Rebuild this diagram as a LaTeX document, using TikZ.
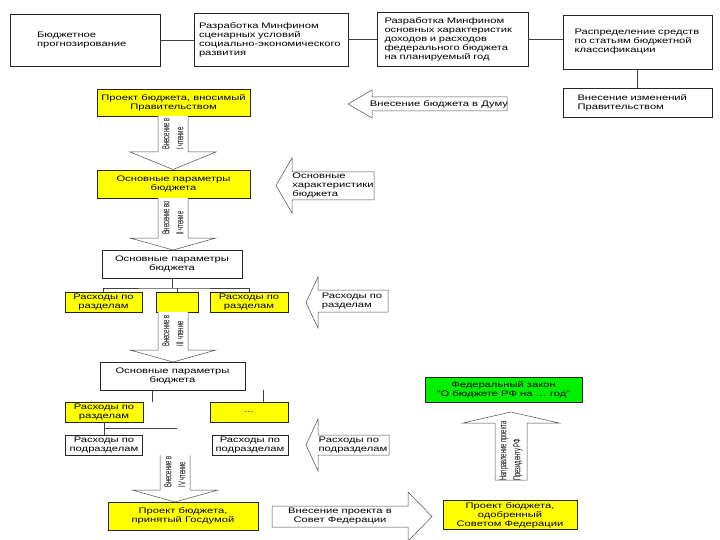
\documentclass[tikz,border=0pt]{standalone}
\usepackage{fontspec}
\setmainfont{Liberation Sans}[FakeStretch=1.4]
\newfontfamily\condfont{Liberation Sans}[FakeStretch=0.58]
\usepackage{xcolor}
\definecolor{boxyellow}{RGB}{255,255,0}
\definecolor{boxgreen}{RGB}{0,240,0}

\begin{document}
\begin{tikzpicture}[x=1pt,y=-1pt,
  every node/.style={font=\fontsize{8}{9}\selectfont,inner sep=2pt},
  box/.style={draw=black!85,line width=0.6pt,fill=white,align=left},
  ybox/.style={box,fill=boxyellow,align=center},
  gbox/.style={box,fill=boxgreen,align=center},
  blk/.style={draw=black!70,line width=0.5pt,fill=white},
  vtxt/.style={font=\condfont\fontsize{10}{14}\selectfont,rotate=90,align=left},
  link/.style={draw=black!75,line width=0.6pt}]
\useasboundingbox (0,0) rectangle (720,540);

% top row
\node[box,minimum width=150pt,minimum height=52pt,text width=96pt] (prog) at (85,40) {Бюджетное\\прогнозирование};
\node[box,minimum width=154pt,minimum height=53pt,text width=144pt] (scen) at (271,39.5) {Разработка Минфином\\сценарных условий\\социально-экономического\\развития};
\node[box,minimum width=151pt,minimum height=54pt,text width=136pt] (osn) at (452.5,39) {Разработка Минфином\\основных характеристик\\доходов и расходов\\федерального бюджета\\на планируемый год};
\node[box,minimum width=149pt,minimum height=54pt,text width=126pt] (rasp) at (637.5,42) {Распределение средств\\по статьям бюджетной\\классификации};
\node[box,minimum width=149pt,minimum height=29pt,text width=120pt] (izm) at (637.5,102.5) {Внесение изменений\\Правительством};
\draw[link] (prog.east) -- (prog.east -| scen.west);
\draw[link] (scen.east) -- (scen.east -| osn.west);
\draw[link] (osn.east) -- (osn.east -| rasp.west);
\draw[link] (rasp.south) -- (izm.north);

% left column
\node[ybox,minimum width=153pt,minimum height=27pt] (pr1) at (173.5,102.5) {Проект бюджета, вносимый\\Правительством};
\draw[blk] (158,116) -- (158,152) -- (130,152) -- (173,169.5) -- (216,152) -- (188,152) -- (188,116);
\node[vtxt] (ch1) at (173,134) {Внесение в\\I чтение};
\node[ybox,minimum width=153pt,minimum height=28pt] (pr2) at (173.5,184) {Основные параметры\\бюджета};
\draw[blk] (158,198) -- (158,238) -- (130,238) -- (173,250) -- (216,238) -- (188,238) -- (188,198);
\node[vtxt] (ch2) at (173,218) {Внесение во\\II чтение};
\node[box,align=center,minimum width=140pt,minimum height=28pt] (par1) at (172,264) {Основные параметры\\бюджета};

\node[ybox,minimum width=77pt,minimum height=20pt] (rz1) at (103.5,302) {Расходы по\\разделам};
\node[ybox,minimum width=42pt,minimum height=20pt] (rz2) at (177,302) {};
\node[ybox,minimum width=78pt,minimum height=20pt] (rz3) at (249,302) {Расходы по\\разделам};
\coordinate (j1) at (172,288);
\draw[link] (par1.south) -- (j1);
\draw[link] (rz1.north) |- (j1) -| (rz3.north);
\draw[link] (rz2.north) -- (rz2.north |- j1);

\draw[blk] (158,312) -- (158,350) -- (130,350) -- (173,362) -- (216,350) -- (188,350) -- (188,312);
\node[vtxt] (ch3) at (173,331) {Внесение в\\III чтение};
\node[box,align=center,minimum width=145pt,minimum height=28pt] (par2) at (172.5,376) {Основные параметры\\бюджета};
\node[ybox,minimum width=78pt,minimum height=20pt] (rz4) at (104,412) {Расходы по\\разделам};
\node[ybox,minimum width=78pt,minimum height=20pt] (rz5) at (249,412) {...};
\coordinate (t1) at (152,390);
\coordinate (t2) at (263,390);
\draw[link] (t1) -- (t1 |- rz4.north);
\draw[link] (t2) -- (t2 |- rz5.north);

\node[box,align=center,minimum width=77pt,minimum height=20pt] (pd1) at (104,445) {Расходы по\\подразделам};
\node[box,align=center,minimum width=76pt,minimum height=20pt] (pd2) at (250,445) {Расходы по\\подразделам};
\coordinate (j2) at (104,428);
\coordinate (j3) at (177,428);
\draw[link] (rz4.south) -- (pd1.north);
\draw[link] (j2) -- (j3);

\draw[blk] (160,455) -- (160,490) -- (132,490) -- (175,502) -- (218,490) -- (190,490) -- (190,455);
\node[vtxt] (ch4) at (175,472) {Внесение в\\IV чтение};
\node[ybox,minimum width=150pt,minimum height=28pt] (pr3) at (183,516) {Проект бюджета,\\принятый Госдумой};

% arrows on the right
\draw[blk] (507,97) -- (372,97) -- (372,90) -- (348,104) -- (372,118) -- (372,111) -- (507,111) -- cycle;
\node (duma) at (439,104) {Внесение бюджета в Думу};
\draw[blk] (374,172) -- (292,172) -- (292,158) -- (276,185.5) -- (292,213) -- (292,200) -- (374,200) -- cycle;
\node[align=left] (har) at (333,186) {Основные\\характеристики\\бюджета};
\draw[blk] (388,290) -- (318,290) -- (318,277) -- (306,302.5) -- (318,328) -- (318,312) -- (388,312) -- cycle;
\node[align=left] (rzt) at (352,301) {Расходы по\\разделам};
\draw[blk] (389,435) -- (318,435) -- (318,419) -- (306,445) -- (318,471) -- (318,455) -- (389,455) -- cycle;
\node[align=left] (pdt) at (353,445) {Расходы по\\подразделам};

\draw[blk] (272,506) -- (408,506) -- (408,492) -- (432,516.5) -- (408,541) -- (408,527) -- (272,527) -- cycle;
\node[align=center] (sf) at (340,516.5) {Внесение проекта в\\Совет Федерации};
\node[ybox,minimum width=134pt,minimum height=28pt] (pr4) at (510,515) {Проект бюджета,\\одобренный\\Советом Федерации};

\draw[blk] (495,480) -- (495,423) -- (463,423) -- (511,412) -- (559,423) -- (527,423) -- (527,480) -- cycle;
\node[vtxt] (prez) at (511,451) {Направление проекта\\Президенту РФ};
\node[gbox,minimum width=157pt,minimum height=25pt] (zak) at (503.5,389.5) {Федеральный закон\\"О бюджете РФ на \dots\ год"};
\end{tikzpicture}
\end{document}
